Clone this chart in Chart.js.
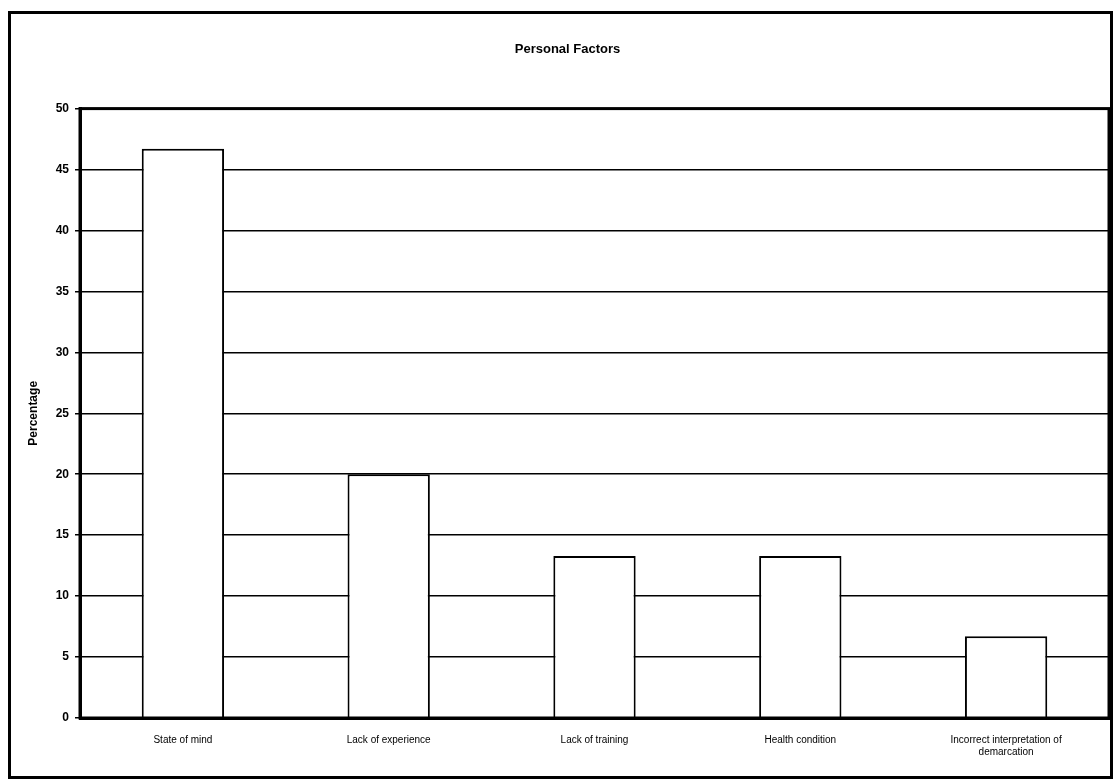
<!DOCTYPE html>
<html>
<head>
<meta charset="utf-8">
<script src="https://cdn.jsdelivr.net/npm/chart.js@4"></script>
<style>
  html, body { margin: 0; padding: 0; background: #fff; }
  #wrap { width: 1114px; height: 780px; }
</style>
</head>
<body>
<div id="wrap"><canvas id="personalChart" width="1114" height="780"></canvas></div>
<script>
const categories = [
  "State of mind",
  "Lack of experience",
  "Lack of training",
  "Health condition",
  ["Incorrect interpretation of", "demarcation"],
];
const percentages = [46.7, 20, 13.3, 13.3, 6.7];
const yTicks = [0, 5, 10, 15, 20, 25, 30, 35, 40, 45, 50];

// outer frame + thick border round the plot area
const framePlugin = {
  id: "frame",
  afterDraw(chart) {
    const { ctx, chartArea } = chart;
    ctx.save();
    ctx.strokeStyle = "#000";
    ctx.lineWidth = 3;
    ctx.strokeRect(9.5, 12.5, 1102, 765);
    ctx.strokeRect(chartArea.left, chartArea.top, chartArea.right - chartArea.left, chartArea.bottom - chartArea.top);
    ctx.restore();
  },
};

function renderPersonalChart() {
  const ctx = document.getElementById("personalChart");

  new Chart(ctx, {
    type: "bar",
    data: {
      labels: categories,
      datasets: [
        {
          label: "Percentage",
          data: percentages,
          backgroundColor: "#fff",
          borderColor: "#000",
          borderWidth: 2,
          categoryPercentage: 1,
          barPercentage: 0.4,
        },
      ],
    },
    options: {
      responsive: false,
      animation: false,
      layout: { padding: { left: 26, right: 5, top: 0, bottom: 0 } },
      plugins: {
        legend: { display: false },
        tooltip: { enabled: false },
        title: {
          display: true,
          text: "Personal Factors",
          color: "#000",
          font: { family: "Liberation Sans", size: 13, weight: "bold" },
          padding: { top: 42, bottom: 51 },
        },
      },
      scales: {
        y: {
          min: 0,
          max: 50,
          afterBuildTicks(scale) {
            scale.ticks = yTicks.map((v) => ({ value: v }));
          },
          afterFit(scale) {
            scale.width = 54;
          },
          title: {
            display: true,
            text: "Percentage",
            color: "#000",
            font: { family: "Liberation Sans", size: 12, weight: "bold" },
            padding: 0,
          },
          ticks: {
            color: "#000",
            font: { family: "Liberation Sans", size: 12, weight: "bold" },
            padding: 6,
          },
          grid: {
            color: "#000",
            lineWidth: 1.5,
            tickLength: 5,
          },
          border: { color: "#000", width: 3 },
        },
        x: {
          afterFit(scale) {
            scale.height = 62;
          },
          ticks: {
            color: "#000",
            font: { family: "Liberation Sans", size: 10 },
            padding: 8,
            maxRotation: 0,
          },
          grid: { display: false },
          border: { color: "#000", width: 3 },
        },
      },
    },
    plugins: [framePlugin],
  });
}

renderPersonalChart();
</script>
</body>
</html>
